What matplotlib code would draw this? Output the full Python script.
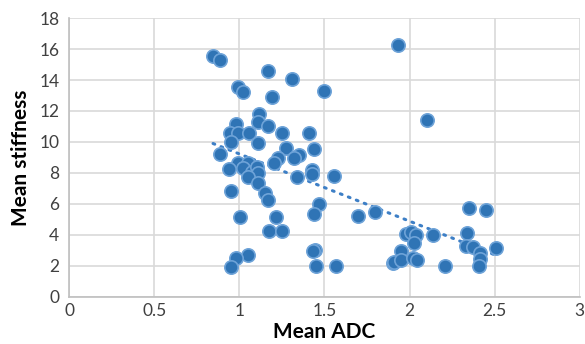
import matplotlib
matplotlib.use("Agg")
import matplotlib.pyplot as plt
import numpy as np

# mean ADC vs mean stiffness
adc = [0.846, 0.887, 0.992, 1.020, 1.167, 1.190, 1.310, 1.500, 1.930, 2.100,
       1.117, 1.108, 0.980, 1.167, 0.945, 0.994, 1.059, 1.251, 1.411, 0.949,
       1.108, 0.888, 1.277, 1.440, 1.352, 1.322, 1.229, 1.202, 0.994, 1.053,
       0.941, 1.023, 1.073, 1.102, 1.112, 1.053, 1.112, 1.338, 1.428, 1.430,
       1.558, 0.950, 1.150, 1.167, 1.468, 1.439, 1.697, 1.800, 1.006, 1.217,
       1.176, 1.249, 1.445, 1.435, 1.049, 0.979, 0.950, 1.449, 1.568, 1.905,
       2.350, 2.449, 1.979, 2.006, 2.041, 2.028, 2.139, 2.339, 2.329, 2.374,
       2.413, 2.413, 2.409, 2.509, 1.950, 1.908, 1.950, 2.022, 2.043, 2.210]
stiffness = [15.55, 15.30, 13.53, 13.25, 14.57, 12.89, 14.05, 13.27, 16.25, 11.42,
             11.80, 11.30, 11.18, 11.00, 10.56, 10.56, 10.60, 10.56, 10.60, 10.00,
             9.95, 9.24, 9.58, 9.52, 9.17, 8.98, 8.95, 8.66, 8.65, 8.65,
             8.23, 8.29, 8.07, 8.40, 7.97, 7.75, 7.36, 7.71, 8.20, 7.94,
             7.79, 6.83, 6.67, 6.27, 5.96, 5.33, 5.22, 5.48, 5.12, 5.14,
             4.25, 4.25, 3.00, 2.96, 2.66, 2.47, 1.88, 1.97, 1.97, 2.20,
             5.72, 5.57, 4.04, 4.19, 3.99, 3.48, 3.99, 4.08, 3.28, 3.22,
             2.79, 2.40, 1.97, 3.15, 2.96, 2.25, 2.36, 2.47, 2.36, 1.97]

xticks = [0, 0.5, 1, 1.5, 2, 2.5, 3]
xticklabels = ["0", "0.5", "1", "1.5", "2", "2.5", "3"]
yticks = list(range(0, 19, 2))

plt.rcParams["font.family"] = ["Lato", "DejaVu Sans"]

fig = plt.figure(figsize=(5.85, 3.44), dpi=100)
ax = fig.add_axes([0.118, 0.138, 0.873, 0.809])

x = np.array(adc)
y = np.array(stiffness)

# linear trendline over the data range
k, b = np.polyfit(x, y, 1)
tx = np.array([x.min(), x.max()])
ax.plot(tx, k * tx + b, color="#3d7fc6", linewidth=2.2,
        linestyle=(0, (0.6, 2.2)), dash_capstyle="round", zorder=3)

ax.scatter(x, y, s=92, color="#2f74b5", edgecolors="#6ea3d8",
           linewidths=1.2, zorder=4)

ax.set_xlim(0, 3)
ax.set_ylim(0, 18)
ax.set_xticks(xticks)
ax.set_xticklabels(xticklabels)
ax.set_yticks(yticks)
ax.grid(True, color="#d9d9d9", linewidth=1.2)
ax.set_axisbelow(True)
for s in ["top", "right"]:
    ax.spines[s].set_visible(False)
for s in ["left", "bottom"]:
    ax.spines[s].set_color("#bfbfbf")
    ax.spines[s].set_linewidth(1.2)
ax.tick_params(length=0, labelsize=12.5, colors="#404040", pad=5)
ax.tick_params(axis="y", pad=7)

ax.set_xlabel("Mean ADC", fontsize=15, fontweight="bold", labelpad=2)
ax.set_ylabel("Mean stiffness", fontsize=15, fontweight="bold", labelpad=6)

fig.savefig("out.png", dpi=100)
